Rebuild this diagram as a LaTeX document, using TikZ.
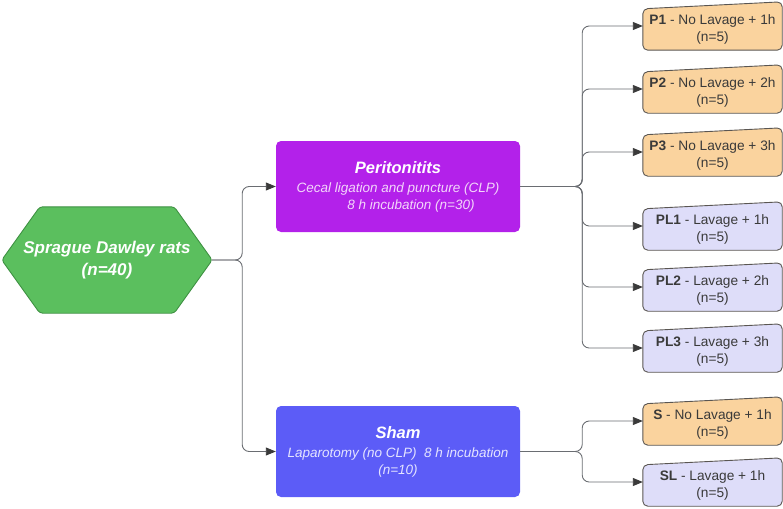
\documentclass[tikz,border=0pt]{standalone}
\usepackage{fontspec}
\setmainfont{Liberation Sans}
\usetikzlibrary{arrows.meta}
\pgfdeclarelayer{background}
\pgfsetlayers{background,main}
\definecolor{hexfill}{HTML}{5BBF5E}
\definecolor{hexline}{HTML}{3E9142}
\definecolor{peritc}{HTML}{B321EA}
\definecolor{shamc}{HTML}{5C5CF7}
\definecolor{orangec}{HTML}{FAD39E}
\definecolor{lavc}{HTML}{DEDDF9}
\definecolor{boxline}{HTML}{5A5652}
\definecolor{connc}{HTML}{6A6D72}
\definecolor{arrowc}{HTML}{3A3A3A}
\definecolor{txtc}{HTML}{3A3A3A}
\definecolor{peritsub}{HTML}{F3D6FA}
\definecolor{shamsub}{HTML}{E4E4FF}
\newcommand{\skewbox}[2]{%
  \begin{pgfonlayer}{background}
  \draw[#2, line width=0.9pt, rounded corners=5pt] ([yshift=-7pt]#1.north west) -- (#1.north east) -- (#1.south east) -- (#1.south west) -- cycle;
  \end{pgfonlayer}}
\newcommand{\rtext}[2]{\raisebox{-7.5pt}[0pt][0pt]{\begin{tabular}{@{}c@{}}\textbf{#1} - #2\\(n=5)\end{tabular}}}
\begin{document}
\begin{tikzpicture}[x=1pt,y=-1pt,
  conn/.style={draw=connc, line width=0.9pt, rounded corners=7pt, -{Triangle[length=10pt,width=8pt,color=arrowc]}},
  bigbox/.style={rectangle, rounded corners=5pt, minimum width=244pt, minimum height=91pt, inner sep=0pt, align=center, text=white, font=\fontsize{13.5}{17}\selectfont\itshape},
  rbox/.style={rectangle, minimum width=139pt, minimum height=48pt, inner sep=0pt, align=center, text=txtc, font=\fontsize{13.7}{17}\selectfont}]
\useasboundingbox (0,0) rectangle (783,508);

% source hexagon
\node[minimum width=210pt, minimum height=106pt, inner sep=0pt, text=white, align=center,
  font=\fontsize{17}{22}\selectfont\bfseries\itshape] (rats) at (107,260) {Sprague Dawley rats\\(n=40)};
\begin{pgfonlayer}{background}
\draw[fill=hexfill, draw=hexline, line width=0.9pt, rounded corners=3pt]
  (rats.west) -- ([xshift=38pt]rats.north west) -- ([xshift=-38pt]rats.north east) -- (rats.east)
  -- ([xshift=-38pt]rats.south east) -- ([xshift=38pt]rats.south west) -- cycle;
\end{pgfonlayer}

% middle boxes
\node[bigbox, fill=peritc] (perit) at (398,186.5)
  {{\fontsize{16.5}{19}\selectfont\bfseries Peritonitits}\\[2pt]
   {\color{peritsub}Cecal ligation and puncture (CLP)}\\
   {\color{peritsub}\hspace{26pt}8 h incubation (n=30)}};
\node[bigbox, fill=shamc] (sham) at (398,451.5)
  {{\fontsize{16.5}{19}\selectfont\bfseries Sham}\\[2pt]
   {\color{shamsub}Laparotomy (no CLP)\ \ 8 h incubation}\\
   {\color{shamsub}(n=10)}};

% right boxes
\node[rbox] (P1) at (712.5,26) {\rtext{P1}{No Lavage + 1h}};
\node[rbox] (P2) at (712.5,89) {\rtext{P2}{No Lavage + 2h}};
\node[rbox] (P3) at (712.5,152) {\rtext{P3}{No Lavage + 3h}};
\node[rbox] (PL1) at (712.5,226) {\rtext{PL1}{Lavage + 1h}};
\node[rbox] (PL2) at (712.5,287) {\rtext{PL2}{Lavage + 2h}};
\node[rbox] (PL3) at (712.5,348) {\rtext{PL3}{Lavage + 3h}};
\node[rbox] (S) at (712.5,421) {\rtext{S}{No Lavage + 1h}};
\node[rbox] (SL) at (712.5,482) {\rtext{SL}{Lavage + 1h}};
\skewbox{P1}{fill=orangec, draw=boxline}
\skewbox{P2}{fill=orangec, draw=boxline}
\skewbox{P3}{fill=orangec, draw=boxline}
\skewbox{PL1}{fill=lavc, draw=boxline}
\skewbox{PL2}{fill=lavc, draw=boxline}
\skewbox{PL3}{fill=lavc, draw=boxline}
\skewbox{S}{fill=orangec, draw=boxline}
\skewbox{SL}{fill=lavc, draw=boxline}

% connectors
\draw[conn] (rats.east) -- ++(30,0) |- (perit.west);
\draw[conn] (rats.east) -- ++(30,0) |- (sham.west);
\foreach \t in {P1,P2,P3,PL1,PL2,PL3}
  \draw[conn] (perit.east) -- ++(62,0) |- (\t.west);
\foreach \t in {S,SL}
  \draw[conn] (sham.east) -- ++(62,0) |- (\t.west);
\end{tikzpicture}
\end{document}
